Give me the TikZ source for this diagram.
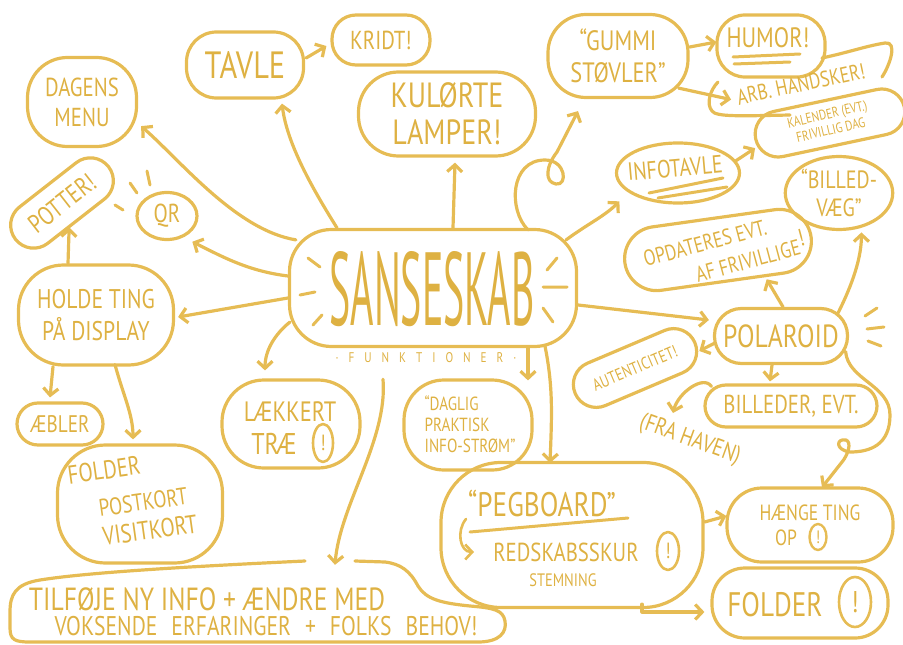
\documentclass[tikz,border=0pt]{standalone}
\usepackage{fontspec}
\usepackage{graphicx}
\newfontfamily\hand[FakeStretch=0.8]{PT Sans}
\newcommand\hfs[2]{\hand\fontsize{#1pt}{#2pt}\selectfont}
\usetikzlibrary{arrows.meta,shapes.geometric,calc}
\definecolor{ink}{RGB}{230,188,84}
\definecolor{inktext}{RGB}{222,177,66}

\begin{document}
\begin{tikzpicture}[x=1pt, y=-1pt, line cap=round, line join=round,
  pen/.style={draw=ink, line width=3.2pt},
  blob/.style={pen, rectangle, rounded corners=#1, inner sep=0pt, text=inktext, align=center},
  blob/.default=25pt,
  oval/.style={pen, ellipse, inner sep=0pt, text=inktext, align=center},
  txt/.style={text=inktext, inner sep=0pt, align=center},
  bang/.style={pen, line width=2.6pt, ellipse, inner sep=0pt, text=inktext, font=\hfs{22}{22}},
  link/.style={pen, -{Straight Barb[length=7pt, width=15pt]}},
  ray/.style={pen, line width=3pt},
  uline/.style={pen, line width=3pt}]

\useasboundingbox (0,0) rectangle (903,645);

% ---------- hub ----------
\node[blob=42pt, minimum width=287pt, minimum height=117pt] (core) at (433,288) {};
\node[txt] (title) at (432,289) {\resizebox{205pt}{74pt}{\hand SANSESKAB}};
\node[txt, font=\hfs{14}{14}] (funk) at (426,358)
  {·\hspace{10pt}F\hspace{10pt}U\hspace{10pt}N\hspace{10pt}K\hspace{10pt}T\hspace{10pt}I\hspace{10pt}O\hspace{10pt}N\hspace{10pt}E\hspace{10pt}R\hspace{10pt}·};
\draw[ray] (308,258) -- (320,267) (300,295) -- (315,292) (313,325) -- (322,315);
\draw[ray] (547,270) -- (557,258) (543,287) -- (567,287) (543,308) -- (553,322);

% ---------- left side ----------
\node[blob=30pt, minimum width=117pt, minimum height=66pt, font=\hfs{38}{40}] (tavle) at (245,65) {TAVLE};
\node[blob=24pt, minimum width=98pt, minimum height=50pt, font=\hfs{26}{28}] (kridt) at (381,40) {KRIDT!};
\node[blob=40pt, minimum width=177pt, minimum height=84pt, font=\hfs{35}{37}] (lamper) at (447,114) {KULØRTE\\LAMPER!};
\node[blob=40pt, minimum width=109pt, minimum height=89pt, font=\hfs{26}{30}] (menu) at (82,102) {DAGENS\\MENU};
\node[blob=23pt, minimum width=118pt, minimum height=46pt, rotate=38, font=\hfs{26}{28}] (potter) at (62,203) {POTTER!};
\node[oval, minimum width=60pt, minimum height=47pt, font=\hfs{26}{28}] (qr) at (167,216) {QR};
\draw[ray] (115,205) -- (123,210) (130,183) -- (137,193) (147,171) -- (150,185);
\node[blob=45pt, minimum width=155pt, minimum height=100pt, font=\hfs{27}{32}] (holde) at (96,315) {HOLDE TING\\PÅ DISPLAY};
\node[blob=21pt, minimum width=86pt, minimum height=42pt, font=\hfs{24}{26}] (aebler) at (60,424) {ÆBLER};
\node[blob=48pt, minimum width=165pt, minimum height=118pt] (cards) at (140,504) {};
\node[txt, rotate=8, font=\hfs{26}{28}] (cards-a) at (104,470) {FOLDER};
\node[txt, rotate=8, font=\hfs{24}{26}] (cards-b) at (143,502) {POSTKORT};
\node[txt, rotate=8, font=\hfs{26}{28}] (cards-c) at (150,530) {VISITKORT};
\node[blob=42pt, minimum width=138pt, minimum height=88pt] (trae) at (291,424) {};
\node[txt, font=\hfs{28}{30}] (trae-a) at (290,412) {LÆKKERT};
\node[txt, font=\hfs{30}{30}] (trae-b) at (274,444) {TRÆ};
\node[bang, minimum width=20pt, minimum height=38pt] (trae-bang) at (323,443) {!};
\node[blob=40pt, minimum width=128pt, minimum height=90pt] (daglig) at (468,425) {};
\node[txt, align=left, font=\hfs{19}{21}] (daglig-t) at (470,424) {“DAGLIG\\PRAKTISK\\INFO-STRØM”};

% ---------- right side ----------
\node[blob=38pt, minimum width=140pt, minimum height=83pt, font=\hfs{28}{32}] (gummi) at (618,56) {“GUMMI\\STØVLER”};
\node[blob=28pt, minimum width=108pt, minimum height=62pt] (humor) at (771,46) {};
\node[txt, font=\hfs{28}{30}] (humor-t) at (768,38) {HUMOR!};
\draw[uline] (733,57) -- (800,54) (734,64) -- (790,62);
\node[txt, rotate=12, font=\hfs{22}{24}] (arb) at (801,84) {ARB. HANDSKER!};
\draw[pen] (822,58) .. controls (850,52) and (866,46) .. (885,43)
  .. controls (898,41) and (890,65) .. (882,77);
\draw[pen] (718,82) .. controls (710,90) and (706,104) .. (712,111)
  .. controls (716,117) and (740,116) .. (790,115);
\node[oval, minimum width=123pt, minimum height=60pt] (infotavle) at (678,173) {};
\node[txt, rotate=5, font=\hfs{25}{26}] (infotavle-t) at (675,168) {INFOTAVLE};
\draw[uline] (649,193) -- (723,178) (658,198) -- (727,187);
\node[blob=23pt, minimum width=152pt, minimum height=46pt, rotate=12] (kalender) at (830,123) {};
\node[txt, rotate=13, font=\hfs{14}{16}] (kalender-t) at (829,122) {KALENDER (EVT.)\\FRIVILLIG DAG};
\node[oval, minimum width=92pt, minimum height=73pt, font=\hfs{25}{28}] (billedvaeg) at (839,193) {“BILLED-\\VÆG”};
\node[blob=32pt, minimum width=188pt, minimum height=64pt, rotate=8] (opdateres) at (718,250) {};
\node[txt, rotate=15, font=\hfs{22}{24}] (opd-a) at (705,243) {OPDATERES EVT.};
\node[txt, rotate=15, font=\hfs{22}{24}] (opd-b) at (748,261) {AF FRIVILLIGE};
\node[txt, rotate=15, font=\hfs{24}{24}] (opd-c) at (801,238) {!};
\node[blob=27pt, minimum width=133pt, minimum height=55pt, font=\hfs{32}{34}] (polaroid) at (781,336) {POLAROID};
\draw[ray] (865,316) -- (877,308) (867,329) -- (884,327) (868,341) -- (881,346);
\node[blob=23pt, minimum width=130pt, minimum height=46pt, rotate=23, font=\hfs{17}{18}] (autent) at (635,368) {AUTENTICITET!};
\node[blob=21pt, minimum width=172pt, minimum height=42pt, font=\hfs{26}{28}] (billeder) at (791,406) {BILLEDER, EVT.};
\node[txt, rotate=-20, font=\hfs{24}{26}] (havn) at (690,440) {(FRA HAVEN)};

% ---------- bottom ----------
\node[blob=60pt, minimum width=262pt, minimum height=145pt] (peg) at (572,535) {};
\node[txt, font=\hfs{34}{36}] (peg-a) at (542,503) {“PEGBOARD”};
\node[txt, font=\hfs{26}{28}] (peg-b) at (566,552) {REDSKABSSKUR};
\node[txt, font=\hfs{18}{20}] (peg-c) at (563,580) {STEMNING};
\node[bang, minimum width=22pt, minimum height=38pt] (peg-bang) at (668,551) {!};
\draw[uline] ([shift={(-72,29)}]peg-a.center) -- ([shift={(86,15)}]peg-a.center);
\draw[link, line width=2.6pt] ([shift={(-100,-33)}]peg-b.center) .. controls +(-10,12) and +(-14,0) .. ([shift={(-92,0)}]peg-b.center);
\node[blob=35pt, minimum width=166pt, minimum height=74pt] (haenge) at (810,525) {};
\node[txt, font=\hfs{22}{24}] (haenge-a) at (810,513) {HÆNGE TING};
\node[txt, font=\hfs{22}{24}] (haenge-b) at (786,538) {OP};
\node[bang, line width=2.4pt, minimum width=17pt, minimum height=26pt, font=\hfs{18}{18}] (haenge-bang) at (818,537) {!};
\node[blob=33pt, minimum width=176pt, minimum height=70pt] (folder) at (800,603) {};
\node[txt, font=\hfs{34}{36}] (folder-t) at (775,605) {FOLDER};
\node[bang, minimum width=32pt, minimum height=50pt, font=\hfs{30}{30}] (folder-bang) at (855,602) {!};
% the long note along the bottom edge, its outline dipping under the pegboard
\node[minimum width=492pt, minimum height=80pt] (tilfoje) at (257,601) {};
\draw[pen] (305,561) .. controls (200,566) and (90,572) .. (40,580)
  .. controls (15,584) and (10,595) .. (10,612) -- (10,628)
  .. controls (10,640) and (15,642) .. (30,642) -- (478,642)
  .. controls (500,642) and (507,632) .. (505,621)
  .. controls (503,610) and (494,608) .. (470,606)
  .. controls (440,603) and (426,599) .. (418,586)
  .. controls (410,571) and (401,564) .. (385,562) -- (355,561);
\node[txt, font=\hfs{32}{32}] (tilfoje-a) at (207,599) {TILFØJE NY INFO + ÆNDRE MED};
\node[txt, font=\hfs{27}{28}] (tilfoje-b) at (266,626)
  {VOKSENDE\hspace{14pt}ERFARINGER\hspace{14pt}+\hspace{14pt}FOLKS\hspace{14pt}BEHOV!};

% ---------- connectors ----------
\draw[link] ([shift={(-96,0)}]core.north) .. controls +(-25,-40) and +(5,40) .. ([shift={(37,4)}]tavle.south);
\draw[link] ([shift={(8,12)}]core.north west) .. controls +(-60,-10) and +(40,35) .. ([shift={(3,-22)}]menu.south east);
\draw[link] ([shift={(0,-12)}]core.west) .. controls +(-40,-5) and +(30,15) .. ([shift={(3,8)}]qr.south east);
\draw[link] ([shift={(0,10)}]core.west) -- ([shift={(3,2)}]holde.east);
\draw[link] ([shift={(2,-26)}]core.south west) .. controls +(-15,12) and +(0,-20) .. ([shift={(-26,-8)}]trae.north);
\draw[link] ([shift={(20,0)}]core.north) -- ([shift={(8,5)}]lamper.south);
\draw[link] ([shift={(95,2)}]core.north) .. controls (508,210) and (510,160) .. (545,160)
  .. controls (566,160) and (568,186) .. (556,184)
  .. controls (544,182) and (546,166) .. (557,152) -- ([shift={(-40,12)}]gummi.south);
\draw[link] ([shift={(-12,12)}]core.north east) .. controls +(20,-15) and +(-15,15) .. ([shift={(-14,6)}]infotavle.south west);
\draw[link] ([shift={(0,17)}]core.east) -- ([shift={(-4,-16)}]polaroid.west);
\draw[link] ([shift={(95,0)}]core.south) -- ([shift={(60,2)}]daglig.north);
\draw[link] ([shift={(112,-2)}]core.south) .. controls +(8,40) and +(2,-50) .. ([shift={(-22,2)}]peg.north);
\draw[link] ([shift={(-43,16)}]funk.south) .. controls +(5,60) and +(5,-60) .. ([shift={(78,4)}]tilfoje.north);

\draw[link] ([shift={(-28,0)}]holde.north) -- ([shift={(-8,5)}]potter.south);
\draw[link] ([shift={(-43,0)}]holde.south) -- ([shift={(-10,-4)}]aebler.north);
\draw[link] ([shift={(19,-2)}]holde.south) .. controls +(8,30) and +(0,-25) .. ([shift={(-7,-4)}]cards.north);
\draw[link] ([shift={(1,-7)}]tavle.east) -- ([shift={(-4,6)}]kridt.west);

\draw[link] ([shift={(0,-9)}]gummi.east) -- ([shift={(1,-4)}]humor.west);
\draw[link] ([shift={(-11,-11)}]gummi.south east) -- ([shift={(-6,2)}]arb.west);
\draw[link] (infotavle.12) -- ([shift={(1,9)}]kalender.west);

\draw[link] ([shift={(2,0)}]polaroid.north) -- ([shift={(44,-4)}]opdateres.south);
\draw[link] ([shift={(-11,6)}]polaroid.north east) .. controls +(10,-20) and +(0,30) .. ([shift={(2,4)}]billedvaeg.-60);
\draw[link] ([shift={(2,7)}]polaroid.west) -- ([shift={(3,9)}]autent.east);
\draw[link] ([shift={(-9,0)}]polaroid.south) -- ([shift={(-21,-2)}]billeder.north);
\draw[link] ([shift={(8,3)}]billeder.north west) .. controls +(-8,-12) and +(5,-20) .. ([shift={(-17,-27)}]havn.center);
\draw[link] ([shift={(-3.5,-13.5)}]polaroid.south east) .. controls (848,380) and (890,385) .. (890,415)
  .. controls (890,445) and (870,452) .. (850,452)
  .. controls (835,450) and (836,438) .. (846,440)
  .. controls (852,442) and (848,455) .. (842,462) -- ([shift={(12,1)}]haenge.north);

\draw[link] ([shift={(0,-13)}]peg.east) -- ([shift={(1,-9)}]haenge.west);
\draw[link] ([shift={(70,-5)}]peg.south) |- ([shift={(-6,9)}]folder.west);
\end{tikzpicture}
\end{document}
